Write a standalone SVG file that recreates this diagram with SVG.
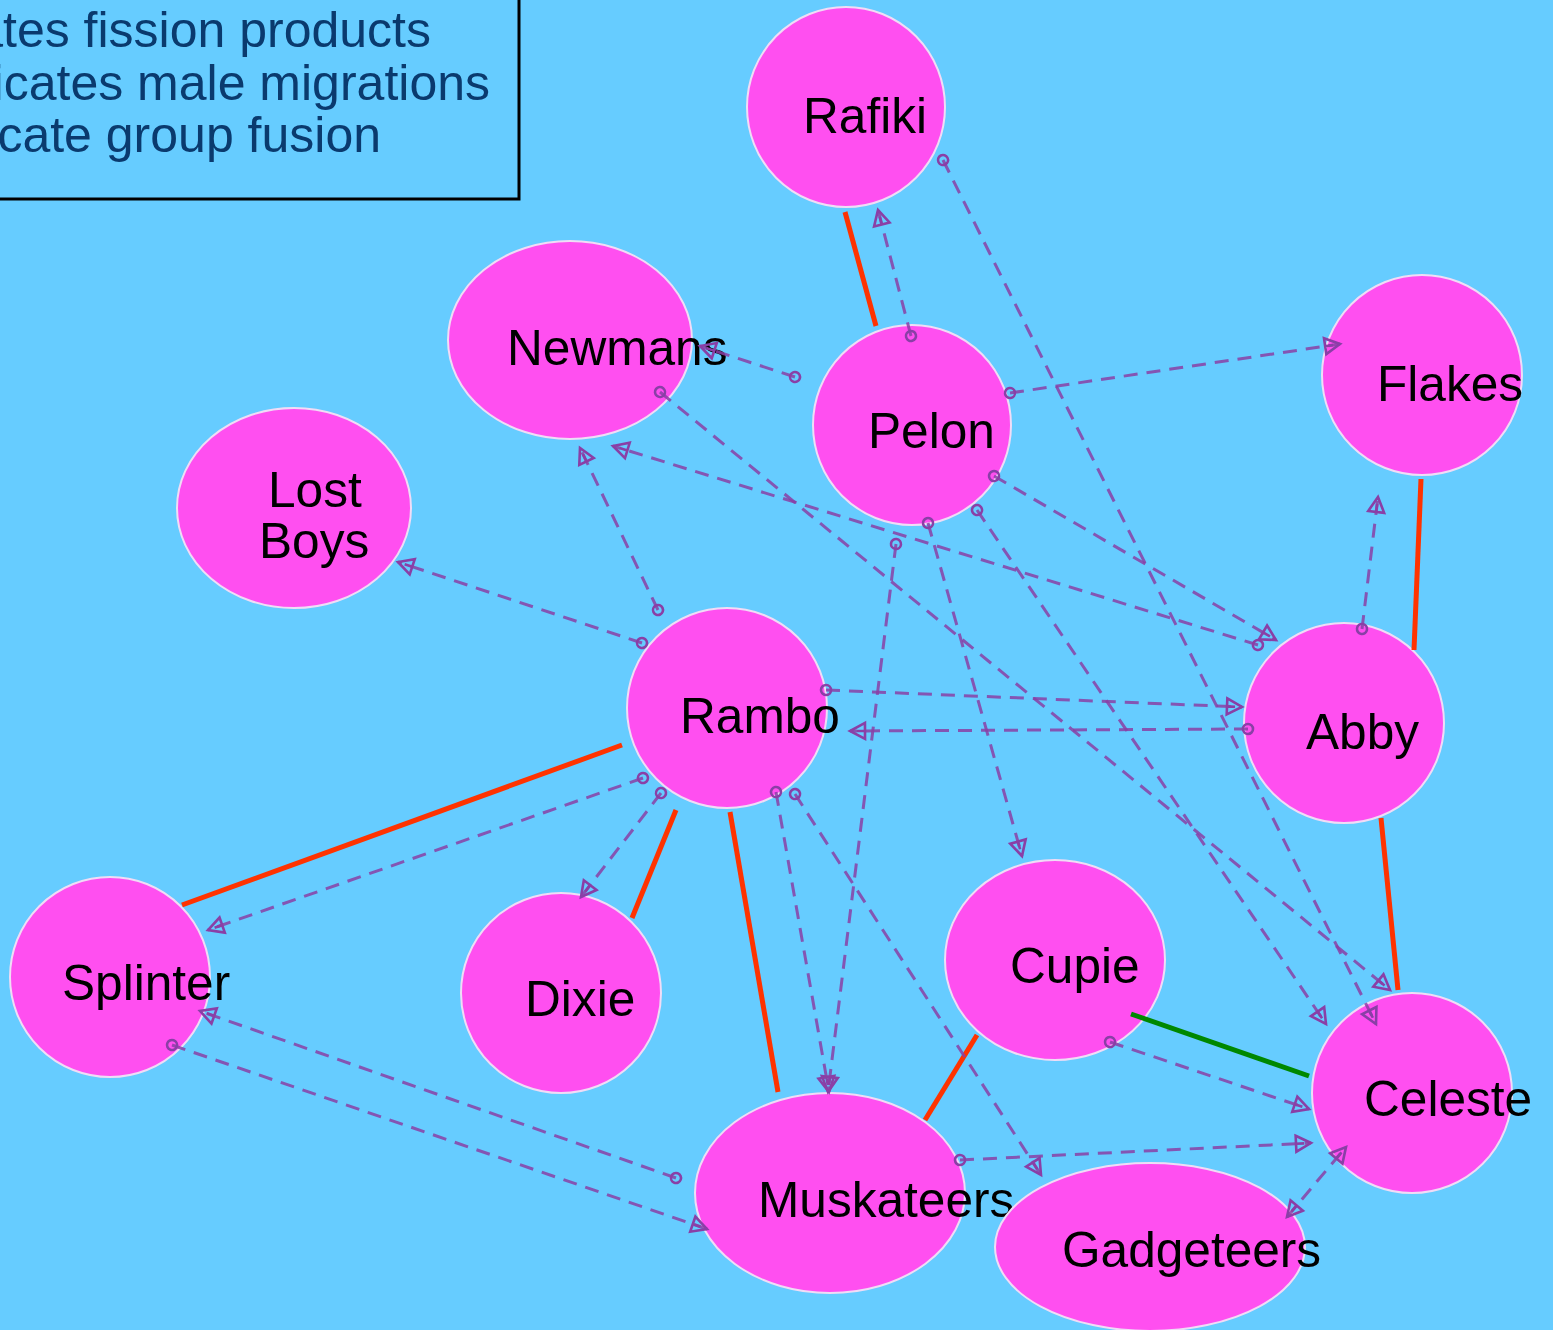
<svg xmlns="http://www.w3.org/2000/svg" width="1553" height="1330" viewBox="0 0 1553 1330">
<style>
.node ellipse{fill:#ff4ff0;stroke:#f0dcf6;stroke-width:2}
.node text{font-family:"Liberation Sans",Arial,sans-serif;font-size:49.6px;fill:#000}
.leg{font-family:"Liberation Sans",Arial,sans-serif;font-size:50px;fill:#0a3a6e}
.fis{stroke:#ff3300;stroke-width:5;fill:none}
.fus{stroke:#008800;stroke-width:5;fill:none}
.mig{stroke:#8a3fa6;stroke-opacity:0.85;stroke-width:3;stroke-dasharray:14 9;fill:none;marker-start:url(#tail);marker-end:url(#head)}
.mig2{stroke:#8a3fa6;stroke-opacity:0.85;stroke-width:3;stroke-dasharray:14 9;fill:none;marker-start:url(#head);marker-end:url(#head)}
</style>
<defs>
<marker id="head" markerUnits="userSpaceOnUse" markerWidth="22" markerHeight="20" refX="17" refY="8" orient="auto-start-reverse" overflow="visible">
<path d="M2,0 L17,8 L2,16 Z M2,8 L10,8" fill="none" stroke="#8a3fa6" stroke-width="2.6"/>
</marker>
<marker id="tail" markerUnits="userSpaceOnUse" markerWidth="14" markerHeight="14" refX="5" refY="5" orient="auto" overflow="visible">
<circle cx="5" cy="5" r="5" fill="none" stroke="#8a3fa6" stroke-width="2.6"/>
</marker>
</defs>
<rect x="0" y="0" width="1553" height="1330" fill="#66ccff"/>
<g id="legend">
<rect x="-10" y="-10" width="529" height="209" fill="none" stroke="#000" stroke-width="3"/>
<text class="leg" x="431" y="47" text-anchor="end">ates fission products</text>
<text class="leg" x="490" y="100" text-anchor="end">icates male migrations</text>
<text class="leg" x="381" y="152" text-anchor="end">cate group fusion</text>
</g>
<g id="node-rafiki" class="node"><ellipse cx="846" cy="107" rx="99" ry="100"/><text x="803" y="133">Rafiki</text></g>
<g id="node-newmans" class="node"><ellipse cx="570" cy="340" rx="122" ry="99"/><text x="507" y="365">Newmans</text></g>
<g id="node-pelon" class="node"><ellipse cx="912" cy="425" rx="99" ry="100"/><text x="868" y="448">Pelon</text></g>
<g id="node-flakes" class="node"><ellipse cx="1422" cy="375" rx="100" ry="100"/><text x="1377" y="401">Flakes</text></g>
<g id="node-lostboys" class="node"><ellipse cx="294" cy="508" rx="117" ry="100"/><text x="268" y="507">Lost</text><text x="259" y="558">Boys</text></g>
<g id="node-rambo" class="node"><ellipse cx="727" cy="708" rx="100" ry="100"/><text x="680" y="733">Rambo</text></g>
<g id="node-abby" class="node"><ellipse cx="1344" cy="723" rx="100" ry="100"/><text x="1306" y="749">Abby</text></g>
<g id="node-splinter" class="node"><ellipse cx="110" cy="977" rx="100" ry="100"/><text x="62" y="1000">Splinter</text></g>
<g id="node-dixie" class="node"><ellipse cx="561" cy="993" rx="100" ry="100"/><text x="525" y="1016">Dixie</text></g>
<g id="node-cupie" class="node"><ellipse cx="1055" cy="960" rx="110" ry="100"/><text x="1010" y="983">Cupie</text></g>
<g id="node-celeste" class="node"><ellipse cx="1412" cy="1093" rx="100" ry="100"/><text x="1364" y="1116">Celeste</text></g>
<g id="node-muskateers" class="node"><ellipse cx="830" cy="1193" rx="135" ry="100"/><text x="758" y="1217">Muskateers</text></g>
<g id="node-gadgeteers" class="node"><ellipse cx="1150" cy="1247" rx="155" ry="84"/><text x="1062" y="1267">Gadgeteers</text></g>
<g id="connectors">
<line class="fis" x1="845" y1="212" x2="876" y2="326"/>
<line class="fis" x1="1421" y1="479" x2="1414" y2="650"/>
<line class="fis" x1="1381" y1="818" x2="1398" y2="990"/>
<line class="fis" x1="622" y1="745" x2="182" y2="905"/>
<line class="fis" x1="676" y1="810" x2="632" y2="918"/>
<line class="fis" x1="730" y1="812" x2="778" y2="1092"/>
<line class="fis" x1="977" y1="1035" x2="925" y2="1120"/>
<line class="fus" x1="1131" y1="1014" x2="1309" y2="1076"/>
<line class="mig" x1="911" y1="336" x2="878" y2="210"/>
<line class="mig" x1="943" y1="160" x2="1376" y2="1024"/>
<line class="mig" x1="795" y1="377" x2="700" y2="346"/>
<line class="mig" x1="1010" y1="393" x2="1340" y2="344"/>
<line class="mig" x1="994" y1="476" x2="1276" y2="640"/>
<line class="mig" x1="1258" y1="645" x2="613" y2="446"/>
<line class="mig" x1="660" y1="392" x2="1390" y2="990"/>
<line class="mig" x1="977" y1="510" x2="1326" y2="1024"/>
<line class="mig" x1="928" y1="523" x2="1022" y2="856"/>
<line class="mig" x1="896" y1="544" x2="828" y2="1092"/>
<line class="mig" x1="658" y1="610" x2="580" y2="448"/>
<line class="mig" x1="642" y1="643" x2="398" y2="562"/>
<line class="mig" x1="826" y1="690" x2="1242" y2="707"/>
<line class="mig" x1="1248" y1="729" x2="850" y2="731"/>
<line class="mig" x1="1362" y1="629" x2="1378" y2="497"/>
<line class="mig" x1="643" y1="778" x2="208" y2="930"/>
<line class="mig" x1="661" y1="793" x2="581" y2="897"/>
<line class="mig" x1="776" y1="792" x2="829" y2="1092"/>
<line class="mig" x1="795" y1="794" x2="1041" y2="1175"/>
<line class="mig" x1="172" y1="1045" x2="707" y2="1229"/>
<line class="mig" x1="676" y1="1178" x2="200" y2="1011"/>
<line class="mig" x1="1110" y1="1042" x2="1309" y2="1109"/>
<line class="mig" x1="960" y1="1160" x2="1311" y2="1143"/>
<line class="mig2" x1="1287" y1="1217" x2="1346" y2="1147"/>
</g>
</svg>
